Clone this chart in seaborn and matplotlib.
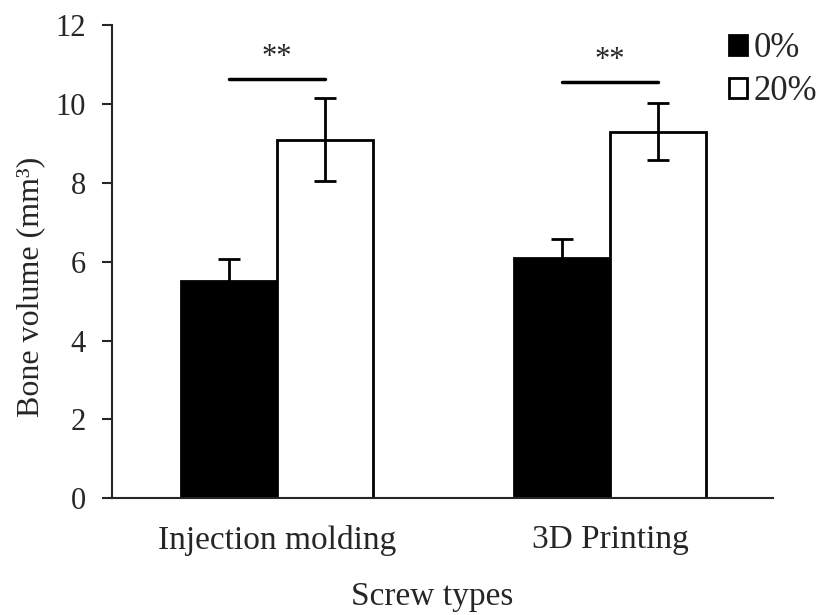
import pandas as pd
import seaborn as sns
import matplotlib.pyplot as plt

sns.set_style("ticks")
plt.rcParams['font.family'] = ['Liberation Serif', 'DejaVu Serif']

screw_types = ['Injection molding', '3D Printing']
groups = ['0%', '20%']
vol_0 = [5.5, 6.1]
vol_20 = [9.1, 9.3]
err_0 = [0.58, 0.47]
err_20 = [1.05, 0.72]
sig_y = [10.63, 10.56]
sig_text = ['**', '**']

df = pd.DataFrame({
    'type': screw_types * 2,
    'group': [groups[0]] * 2 + [groups[1]] * 2,
    'vol': vol_0 + vol_20,
})

fig = plt.figure(figsize=(8.25, 6.15), dpi=100)
ax = fig.add_axes([0.136, 0.19, 0.801, 0.769])

sns.barplot(data=df, x='type', y='vol', hue='group', palette=['black', 'white'],
            width=0.577, gap=0, edgecolor='black', linewidth=2, errorbar=None, ax=ax)

# error bars on top of each bar
bw = 0.577 / 2
for i in range(len(screw_types)):
    ax.errorbar(i - bw / 2, vol_0[i], yerr=err_0[i], fmt='none', ecolor='black',
                elinewidth=2, capsize=8, capthick=2, zorder=5)
    ax.errorbar(i + bw / 2, vol_20[i], yerr=err_20[i], fmt='none', ecolor='black',
                elinewidth=2, capsize=8, capthick=2, zorder=5)
    ax.plot([i - bw / 2, i + bw / 2], [sig_y[i], sig_y[i]], color='black', lw=2.5)
    ax.text(i, sig_y[i] + 0.18, sig_text[i], ha='center', va='bottom', fontsize=22)

ax.set_xlim(-0.495, 1.49)
ax.set_ylim(0, 12)
ax.set_yticks(range(0, 13, 2))
sns.despine(ax=ax)
ax.spines['left'].set_linewidth(1.5)
ax.spines['bottom'].set_linewidth(1.5)
ax.tick_params(axis='y', labelsize=22, length=7, width=1.5, pad=12)
ax.tick_params(axis='x', labelsize=24, length=0, pad=19)
ax.set_ylabel('Bone volume (mm³)', fontsize=23, labelpad=7)
ax.set_xlabel('Screw types', fontsize=24, labelpad=19)
ax.yaxis.label.set_y(0.446)
ax.xaxis.label.set_x(0.484)

fig.legend(*ax.get_legend_handles_labels(), loc='upper left',
           bbox_to_anchor=(0.884, 0.948), frameon=False, fontsize=25,
           handlelength=0.5, handleheight=0.5, handletextpad=0.2,
           labelspacing=0.3, borderpad=0, borderaxespad=0)
ax.get_legend().remove()

fig.savefig('out.png', dpi=100)
